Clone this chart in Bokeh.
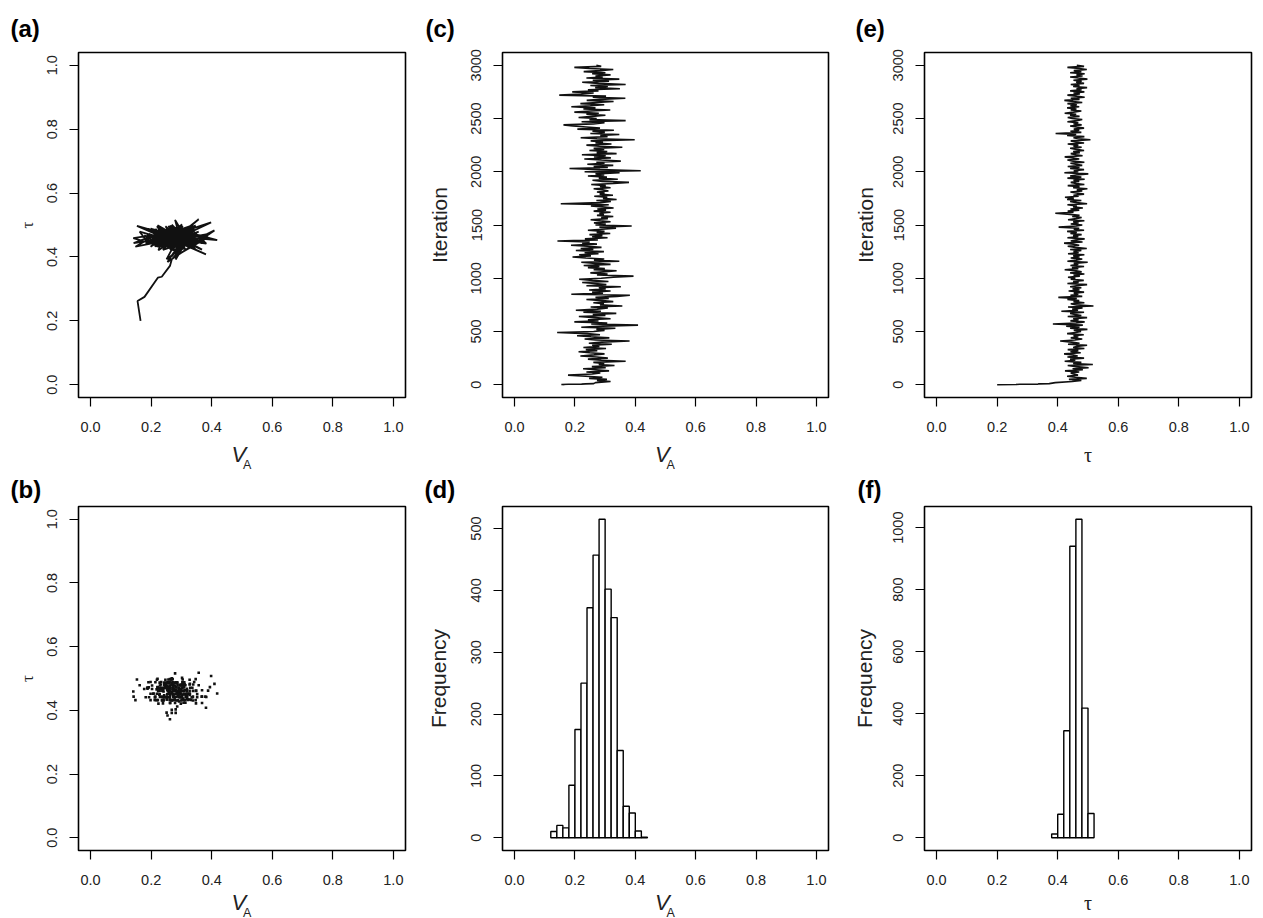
from bokeh.plotting import figure
from bokeh.layouts import row, column
from bokeh.models import Range1d, FixedTicker, NumeralTickFormatter, LinearAxis
from bokeh.embed import file_html
from bokeh.resources import INLINE

# ---------------- data ----------------
burn_iter = [0, 2, 4, 6, 8]
burn_va = [0.165, 0.155, 0.178, 0.222, 0.235]
burn_tau = [0.200, 0.262, 0.275, 0.335, 0.338]

sample_iter = list(range(10, 3001, 10))
va_samples = [
    0.262, 0.268, 0.318, 0.273, 0.306, 0.247, 0.291, 0.236, 0.177, 0.258,
    0.284, 0.238, 0.313, 0.269, 0.227, 0.302, 0.256, 0.331, 0.279, 0.297,
    0.261, 0.368, 0.287, 0.243, 0.309, 0.272, 0.218, 0.263, 0.298, 0.249,
    0.212, 0.274, 0.236, 0.303, 0.228, 0.281, 0.257, 0.322, 0.246, 0.289,
    0.381, 0.268, 0.232, 0.314, 0.253, 0.207, 0.283, 0.241, 0.141, 0.262,
    0.298, 0.271, 0.334, 0.221, 0.292, 0.409, 0.254, 0.307, 0.198, 0.278,
    0.243, 0.318, 0.266, 0.213, 0.301, 0.259, 0.337, 0.228, 0.286, 0.203,
    0.274, 0.309, 0.252, 0.357, 0.283, 0.296, 0.261, 0.327, 0.291, 0.238,
    0.312, 0.268, 0.339, 0.382, 0.188, 0.293, 0.257, 0.318, 0.247, 0.302,
    0.279, 0.352, 0.238, 0.304, 0.266, 0.224, 0.311, 0.258, 0.214, 0.287,
    0.327, 0.394, 0.273, 0.308, 0.251, 0.294, 0.338, 0.262, 0.299, 0.243,
    0.281, 0.229, 0.318, 0.268, 0.221, 0.347, 0.263, 0.297, 0.236, 0.192,
    0.253, 0.214, 0.278, 0.232, 0.296, 0.203, 0.261, 0.219, 0.288, 0.241,
    0.187, 0.273, 0.224, 0.249, 0.142, 0.276, 0.233, 0.308, 0.257, 0.291,
    0.248, 0.317, 0.272, 0.298, 0.243, 0.289, 0.336, 0.281, 0.388, 0.268,
    0.302, 0.263, 0.318, 0.284, 0.252, 0.309, 0.287, 0.327, 0.273, 0.296,
    0.281, 0.318, 0.262, 0.303, 0.274, 0.328, 0.291, 0.253, 0.312, 0.153,
    0.284, 0.319, 0.271, 0.338, 0.293, 0.307, 0.264, 0.326, 0.282, 0.298,
    0.273, 0.311, 0.292, 0.262, 0.318, 0.283, 0.302, 0.254, 0.327, 0.379,
    0.291, 0.258, 0.342, 0.279, 0.306, 0.243, 0.297, 0.268, 0.348, 0.232,
    0.418, 0.283, 0.182, 0.309, 0.262, 0.327, 0.241, 0.298, 0.271, 0.352,
    0.288, 0.231, 0.319, 0.263, 0.302, 0.223, 0.338, 0.272, 0.307, 0.248,
    0.297, 0.262, 0.357, 0.281, 0.238, 0.321, 0.268, 0.293, 0.252, 0.398,
    0.273, 0.219, 0.308, 0.284, 0.347, 0.251, 0.299, 0.258, 0.329, 0.208,
    0.283, 0.238, 0.193, 0.162, 0.261, 0.298, 0.222, 0.368, 0.248, 0.272,
    0.212, 0.257, 0.301, 0.238, 0.279, 0.198, 0.253, 0.317, 0.228, 0.268,
    0.188, 0.251, 0.297, 0.218, 0.273, 0.328, 0.239, 0.282, 0.367, 0.259,
    0.303, 0.148, 0.221, 0.262, 0.191, 0.278, 0.243, 0.349, 0.267, 0.309,
    0.251, 0.368, 0.278, 0.224, 0.313, 0.259, 0.347, 0.238, 0.292, 0.268,
    0.318, 0.257, 0.301, 0.229, 0.283, 0.327, 0.248, 0.198, 0.287, 0.271,
]
tau_samples = [
    0.372, 0.392, 0.448, 0.478, 0.437, 0.496, 0.458, 0.431, 0.467, 0.452,
    0.443, 0.471, 0.424, 0.483, 0.449, 0.502, 0.462, 0.433, 0.516, 0.451,
    0.478, 0.423, 0.458, 0.441, 0.487, 0.432, 0.466, 0.448, 0.421, 0.476,
    0.442, 0.468, 0.433, 0.488, 0.451, 0.463, 0.497, 0.434, 0.472, 0.446,
    0.408, 0.457, 0.481, 0.443, 0.468, 0.452, 0.486, 0.431, 0.459, 0.477,
    0.453, 0.498, 0.441, 0.472, 0.428, 0.483, 0.384, 0.461, 0.489, 0.442,
    0.469, 0.451, 0.497, 0.433, 0.478, 0.458, 0.441, 0.487, 0.412, 0.467,
    0.448, 0.482, 0.434, 0.518, 0.462, 0.443, 0.488, 0.452, 0.471, 0.432,
    0.463, 0.402, 0.481, 0.442, 0.468, 0.453, 0.487, 0.436, 0.472, 0.449,
    0.478, 0.441, 0.462, 0.497, 0.432, 0.469, 0.451, 0.486, 0.443, 0.458,
    0.434, 0.473, 0.452, 0.488, 0.441, 0.479, 0.461, 0.423, 0.468, 0.447,
    0.487, 0.442, 0.468, 0.453, 0.499, 0.432, 0.461, 0.481, 0.443, 0.472,
    0.451, 0.488, 0.434, 0.469, 0.452, 0.478, 0.441, 0.496, 0.458, 0.433,
    0.471, 0.452, 0.421, 0.482, 0.443, 0.462, 0.489, 0.432, 0.468, 0.451,
    0.479, 0.442, 0.463, 0.431, 0.487, 0.453, 0.471, 0.403, 0.462, 0.481,
    0.443, 0.469, 0.451, 0.488, 0.434, 0.461, 0.479, 0.448, 0.472, 0.441,
    0.392, 0.452, 0.433, 0.471, 0.442, 0.483, 0.451, 0.463, 0.432, 0.497,
    0.462, 0.441, 0.478, 0.431, 0.453, 0.424, 0.469, 0.452, 0.487, 0.461,
    0.442, 0.481, 0.463, 0.498, 0.451, 0.472, 0.433, 0.488, 0.461, 0.443,
    0.471, 0.452, 0.489, 0.432, 0.478, 0.441, 0.462, 0.501, 0.422, 0.468,
    0.453, 0.487, 0.441, 0.472, 0.433, 0.481, 0.459, 0.442, 0.488, 0.451,
    0.432, 0.471, 0.452, 0.423, 0.482, 0.461, 0.443, 0.473, 0.451, 0.487,
    0.462, 0.441, 0.479, 0.452, 0.468, 0.433, 0.487, 0.461, 0.443, 0.508,
    0.469, 0.452, 0.488, 0.431, 0.461, 0.393, 0.478, 0.442, 0.471, 0.453,
    0.487, 0.462, 0.441, 0.479, 0.452, 0.468, 0.432, 0.463, 0.481, 0.448,
    0.433, 0.472, 0.441, 0.461, 0.423, 0.452, 0.478, 0.443, 0.462, 0.431,
    0.471, 0.442, 0.463, 0.432, 0.481, 0.451, 0.422, 0.472, 0.443, 0.489,
    0.461, 0.432, 0.473, 0.452, 0.488, 0.441, 0.479, 0.462, 0.497, 0.451,
    0.472, 0.443, 0.487, 0.461, 0.479, 0.452, 0.498, 0.468, 0.441, 0.482,
    0.462, 0.489, 0.441, 0.478, 0.453, 0.496, 0.471, 0.432, 0.487, 0.463,
]

va_bin_edges = [0.12, 0.14, 0.16, 0.18, 0.20, 0.22, 0.24, 0.26, 0.28,
                0.30, 0.32, 0.34, 0.36, 0.38, 0.40, 0.42, 0.44]
va_counts = [10, 20, 16, 85, 175, 250, 372, 457, 515, 402, 356, 141, 51, 40, 11, 1]
tau_bin_edges = [0.38, 0.40, 0.42, 0.44, 0.46, 0.48, 0.50, 0.52]
tau_counts = [12, 76, 345, 940, 1027, 418, 78]

unit_ticks = [0.0, 0.2, 0.4, 0.6, 0.8, 1.0]
iter_ticks = [0, 500, 1000, 1500, 2000, 2500, 3000]
va_freq_ticks = [0, 100, 200, 300, 400, 500]
tau_freq_ticks = [0, 200, 400, 600, 800, 1000]

trace_iter = burn_iter + sample_iter
trace_va = burn_va + va_samples
trace_tau = burn_tau + tau_samples

# ---------------- layout ----------------
SANS = "Liberation Sans"
SERIF = "Liberation Serif"
INK = "#111111"
TXT = "#222222"
NB = "\u00a0"

COLS = [dict(fw=327, l=78, r=14), dict(fw=326, l=83, r=16), dict(fw=327, l=80, r=11)]
ROWS = [dict(fh=345, t=52, b=73), dict(fh=344, t=37, b=66)]


def make_fig(ci, ri, yr, yticks, tag, tag_offset, tag_standoff, yfmt=None):
    c, r = COLS[ci], ROWS[ri]
    p = figure(frame_width=c["fw"], frame_height=r["fh"], output_backend="svg",
               toolbar_location=None,
               x_range=Range1d(-0.04, 1.04), y_range=yr,
               min_border_left=c["l"], min_border_right=c["r"],
               min_border_top=r["t"], min_border_bottom=r["b"])
    p.xgrid.visible = False
    p.ygrid.visible = False
    p.outline_line_color = "black"
    p.outline_line_width = 1.6
    p.background_fill_color = "white"
    p.border_fill_color = None
    p.title.text = tag
    p.title.align = "left"
    p.title.offset = tag_offset
    p.title.standoff = tag_standoff
    p.title.text_font = SANS
    p.title.text_font_style = "bold"
    p.title.text_font_size = "24px"
    p.title.text_color = "black"
    p.xaxis.ticker = FixedTicker(ticks=unit_ticks)
    p.xaxis.formatter = NumeralTickFormatter(format="0.0")
    p.yaxis.ticker = FixedTicker(ticks=yticks)
    if yfmt:
        p.yaxis.formatter = NumeralTickFormatter(format=yfmt)
    for ax in p.axis:
        ax.axis_line_color = None
        ax.major_tick_line_color = "black"
        ax.major_tick_line_width = 1.2
        ax.major_tick_out = 9
        ax.major_tick_in = 0
        ax.minor_tick_line_color = None
        ax.major_label_text_font = SANS
        ax.major_label_text_font_size = "14.5px"
        ax.major_label_text_color = TXT
        ax.axis_label_text_color = TXT
        ax.axis_label_text_font_style = "normal"
    p.xaxis.major_label_standoff = 15
    p.yaxis.major_label_standoff = 12
    p.yaxis.major_label_orientation = "parallel"
    return p


def ytitle(p, text, standoff, font=SANS, size="21px"):
    p.yaxis.axis_label = text
    p.yaxis.axis_label_text_font = font
    p.yaxis.axis_label_text_font_size = size
    p.yaxis.axis_label_standoff = standoff


def xtitle_va(p, v_standoff, a_standoff):
    p.xaxis.axis_label = "V" + NB
    p.xaxis.axis_label_text_font = SANS
    p.xaxis.axis_label_text_font_size = "22px"
    p.xaxis.axis_label_text_font_style = "italic"
    p.xaxis.axis_label_standoff = v_standoff
    sub = LinearAxis(ticker=FixedTicker(ticks=[]), axis_label=NB * 3 + "A",
                     axis_line_color=None, major_tick_out=0, major_tick_in=0,
                     minor_tick_out=0, minor_tick_in=0, major_label_standoff=0,
                     axis_label_standoff=a_standoff, axis_label_text_font=SANS,
                     axis_label_text_font_size="12.5px", axis_label_text_font_style="normal",
                     axis_label_text_color=TXT)
    p.add_layout(sub, "below")


def xtitle_tau(p, standoff):
    p.xaxis.axis_label = "τ"
    p.xaxis.axis_label_text_font = SERIF
    p.xaxis.axis_label_text_font_size = "20px"
    p.xaxis.axis_label_standoff = standoff


# (a) joint trace
pa = make_fig(0, 0, Range1d(-0.04, 1.04), unit_ticks, "(a)", -68, 22, "0.0")
pa.line(trace_va, trace_tau, line_color=INK, line_width=1.8)
ytitle(pa, "τ", 8, SERIF, "17px")
xtitle_va(pa, 7, -12)

# (b) joint scatter
pb = make_fig(0, 1, Range1d(-0.04, 1.04), unit_ticks, "(b)", -68, 8, "0.0")
pb.scatter(va_samples, tau_samples, marker="square", size=2.6, fill_color=INK,
           line_color=None)
ytitle(pb, "τ", 8, SERIF, "17px")
xtitle_va(pb, 2, -12)

# (c) V_A trace
pc = make_fig(1, 0, Range1d(-120, 3120), iter_ticks, "(c)", -77, 22)
pc.line(trace_va, trace_iter, line_color=INK, line_width=1.6)
ytitle(pc, "Iteration", 18)
xtitle_va(pc, 7, -12)

# (d) V_A histogram
pd_ = make_fig(1, 1, Range1d(-20.6, 535.6), va_freq_ticks, "(d)", -78, 8)
pd_.quad(left=va_bin_edges[:-1], right=va_bin_edges[1:], bottom=0, top=va_counts,
         fill_color="white", line_color="black", line_width=1.4)
ytitle(pd_, "Frequency", 19)
xtitle_va(pd_, 2, -12)

# (e) tau trace
pe = make_fig(2, 0, Range1d(-120, 3120), iter_ticks, "(e)", -69, 22)
pe.line(trace_tau, trace_iter, line_color=INK, line_width=1.6)
ytitle(pe, "Iteration", 14)
xtitle_tau(pe, 9)

# (f) tau histogram
pf = make_fig(2, 1, Range1d(-41.08, 1068.08), tau_freq_ticks, "(f)", -67, 8)
pf.quad(left=tau_bin_edges[:-1], right=tau_bin_edges[1:], bottom=0, top=tau_counts,
        fill_color="white", line_color="black", line_width=1.4)
ytitle(pf, "Frequency", 15)
xtitle_tau(pf, 4)

layout = column(row(pa, pc, pe), row(pb, pd_, pf, margin=(-5, 0, 0, 0)))
open("out.html", "w").write(file_html(layout, INLINE))
